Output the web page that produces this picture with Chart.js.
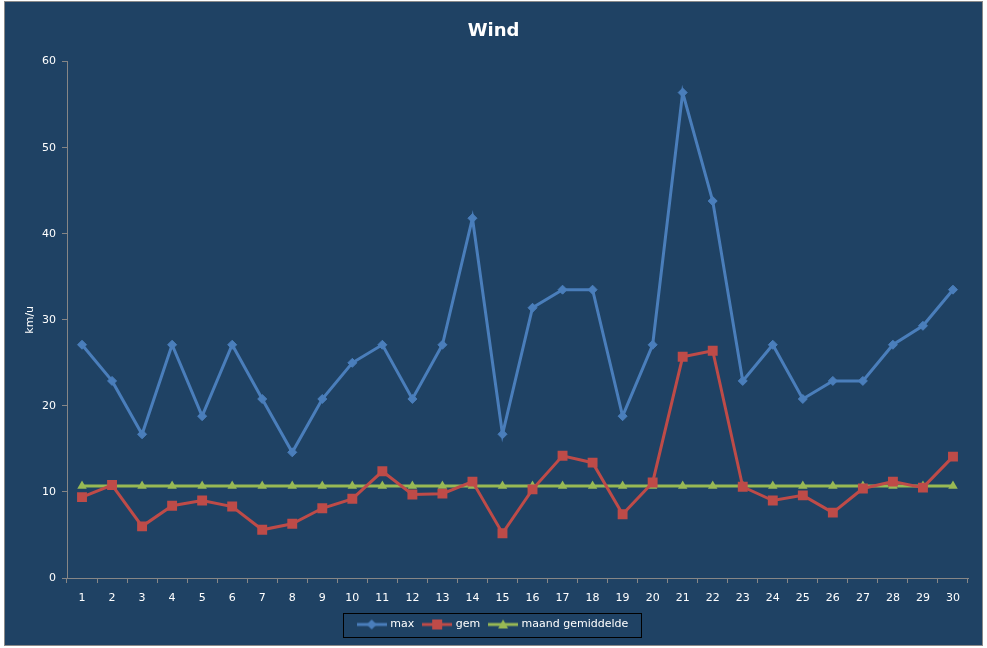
<!DOCTYPE html>
<html>
<head>
<meta charset="utf-8">
<script src="https://cdn.jsdelivr.net/npm/chart.js@4"></script>
<style>
  body { margin: 0; background: #ffffff; }
  #wrap {
    position: absolute; left: 4px; top: 1px;
    width: 977px; height: 643px;
    border: 1px solid #8a8a8a;
    background: #1f4264;
  }
</style>
</head>
<body>
<div id="wrap"><canvas id="windChart"></canvas></div>
<script>
// days of the month
const days = Array.from({length: 30}, (_, i) => String(i + 1));

// km/u values
const maxWind = [27.1, 22.9, 16.7, 27.1, 18.8, 27.1, 20.8, 14.6, 20.8, 25.0,
                 27.1, 20.8, 27.1, 41.8, 16.7, 31.4, 33.5, 33.5, 18.8, 27.1,
                 56.4, 43.8, 22.9, 27.1, 20.8, 22.9, 22.9, 27.1, 29.3, 33.5];
const gemWind = [9.4, 10.8, 6.0, 8.4, 9.0, 8.3, 5.6, 6.3, 8.1, 9.2,
                 12.4, 9.7, 9.8, 11.2, 5.2, 10.3, 14.2, 13.4, 7.4, 11.1,
                 25.7, 26.4, 10.6, 9.0, 9.6, 7.6, 10.4, 11.2, 10.5, 14.1];
const maandGem = 10.7;
const maandWind = days.map(() => maandGem);

const yTicks = [0, 10, 20, 30, 40, 50, 60];

const blue = '#4a7ebb';
const red = '#be4b48';
const green = '#98b954';
const axisGrey = '#868686';
const font = 'DejaVu Sans';

// little legend pictures: line with the marker in the middle
function legendIcon(color, shape) {
    const c = document.createElement('canvas');
    c.width = 30; c.height = 12;
    const g = c.getContext('2d');
    g.strokeStyle = color; g.fillStyle = color; g.lineWidth = 3;
    g.beginPath(); g.moveTo(0, 6); g.lineTo(30, 6); g.stroke();
    g.beginPath();
    if (shape === 'diamond') {
        g.moveTo(15, 1); g.lineTo(20, 6); g.lineTo(15, 11); g.lineTo(10, 6);
    } else if (shape === 'square') {
        g.rect(10, 1, 10, 10);
    } else {
        g.moveTo(15, 1); g.lineTo(20, 10); g.lineTo(10, 10);
    }
    g.closePath(); g.fill();
    return c;
}
const icons = [legendIcon(blue, 'diamond'), legendIcon(red, 'square'), legendIcon(green, 'triangle')];

// border round the legend
const legendBorder = {
    id: 'legendBorder',
    afterDraw(chart) {
        const boxes = chart.legend.legendHitBoxes;
        if (!boxes || !boxes.length) return;
        const left = Math.min(...boxes.map(b => b.left)) - 16;
        const right = Math.max(...boxes.map(b => b.left + b.width)) + 12;
        const mid = boxes[0].top + boxes[0].height / 2;
        const ctx = chart.ctx;
        ctx.save();
        ctx.strokeStyle = '#000000';
        ctx.lineWidth = 1;
        ctx.strokeRect(Math.round(left) + 0.5, Math.round(mid - 12) + 0.5, Math.round(right - left), 24);
        ctx.restore();
    }
};

const ctx = document.getElementById('windChart').getContext('2d');
const windChart = new Chart(ctx, {
    type: 'line',
    data: {
        labels: days,
        datasets: [{
            label: 'max',
            data: maxWind,
            borderColor: blue,
            backgroundColor: blue,
            borderWidth: 3,
            pointStyle: 'rectRot',
            pointRadius: 4.5,
            pointBorderWidth: 1,
            tension: 0
        }, {
            label: 'gem',
            data: gemWind,
            borderColor: red,
            backgroundColor: red,
            borderWidth: 3,
            pointStyle: 'rect',
            pointRadius: 7,
            pointBorderWidth: 0,
            tension: 0
        }, {
            label: 'maand gemiddelde',
            data: maandWind,
            borderColor: green,
            backgroundColor: green,
            borderWidth: 3,
            pointStyle: 'triangle',
            pointRadius: 5.5,
            pointBorderWidth: 0,
            tension: 0
        }]
    },
    options: {
        animation: false,
        responsive: true,
        maintainAspectRatio: false,
        devicePixelRatio: 1,
        layout: { padding: { left: 7, right: 7, top: 0, bottom: 5 } },
        plugins: {
            title: {
                display: true,
                text: 'Wind',
                color: '#ffffff',
                font: { family: font, size: 18, weight: 'bold' },
                padding: { top: 19, bottom: 19 }
            },
            legend: {
                position: 'bottom',
                labels: {
                    color: '#ffffff',
                    font: { family: font, size: 11 },
                    usePointStyle: true,
                    pointStyleWidth: 26,
                    padding: 10,
                    generateLabels(chart) {
                        const items = Chart.defaults.plugins.legend.labels.generateLabels(chart);
                        items.forEach((it, i) => { it.pointStyle = icons[i]; });
                        return items;
                    }
                }
            },
            tooltip: { enabled: false }
        },
        scales: {
            x: {
                offset: true,
                grid: { display: true, offset: true, drawOnChartArea: false, color: axisGrey, tickLength: 5 },
                border: { color: axisGrey, width: 1 },
                ticks: { color: '#ffffff', font: { family: font, size: 11 }, maxRotation: 0, autoSkip: false, padding: 9 },
                afterFit(scale) { scale.height = 31; }
            },
            y: {
                min: 0,
                max: 60,
                afterBuildTicks(scale) { scale.ticks = yTicks.map(v => ({value: v})); },
                grid: { display: true, drawOnChartArea: false, color: axisGrey, tickLength: 5 },
                border: { color: axisGrey, width: 1 },
                ticks: { color: '#ffffff', font: { family: font, size: 11 }, padding: 6 },
                title: {
                    display: true,
                    text: 'km/u',
                    color: '#ffffff',
                    font: { family: font, size: 11 },
                    padding: { top: 12, bottom: 0 }
                },
                afterFit(scale) { scale.width = 55; }
            },
            // empty right-hand axis: only keeps a margin on the right
            yRight: {
                position: 'right',
                min: 0,
                max: 60,
                grid: { display: false },
                border: { display: false },
                ticks: { display: false },
                afterFit(scale) { scale.width = 7; }
            }
        }
    },
    plugins: [legendBorder]
});
</script>
</body>
</html>
